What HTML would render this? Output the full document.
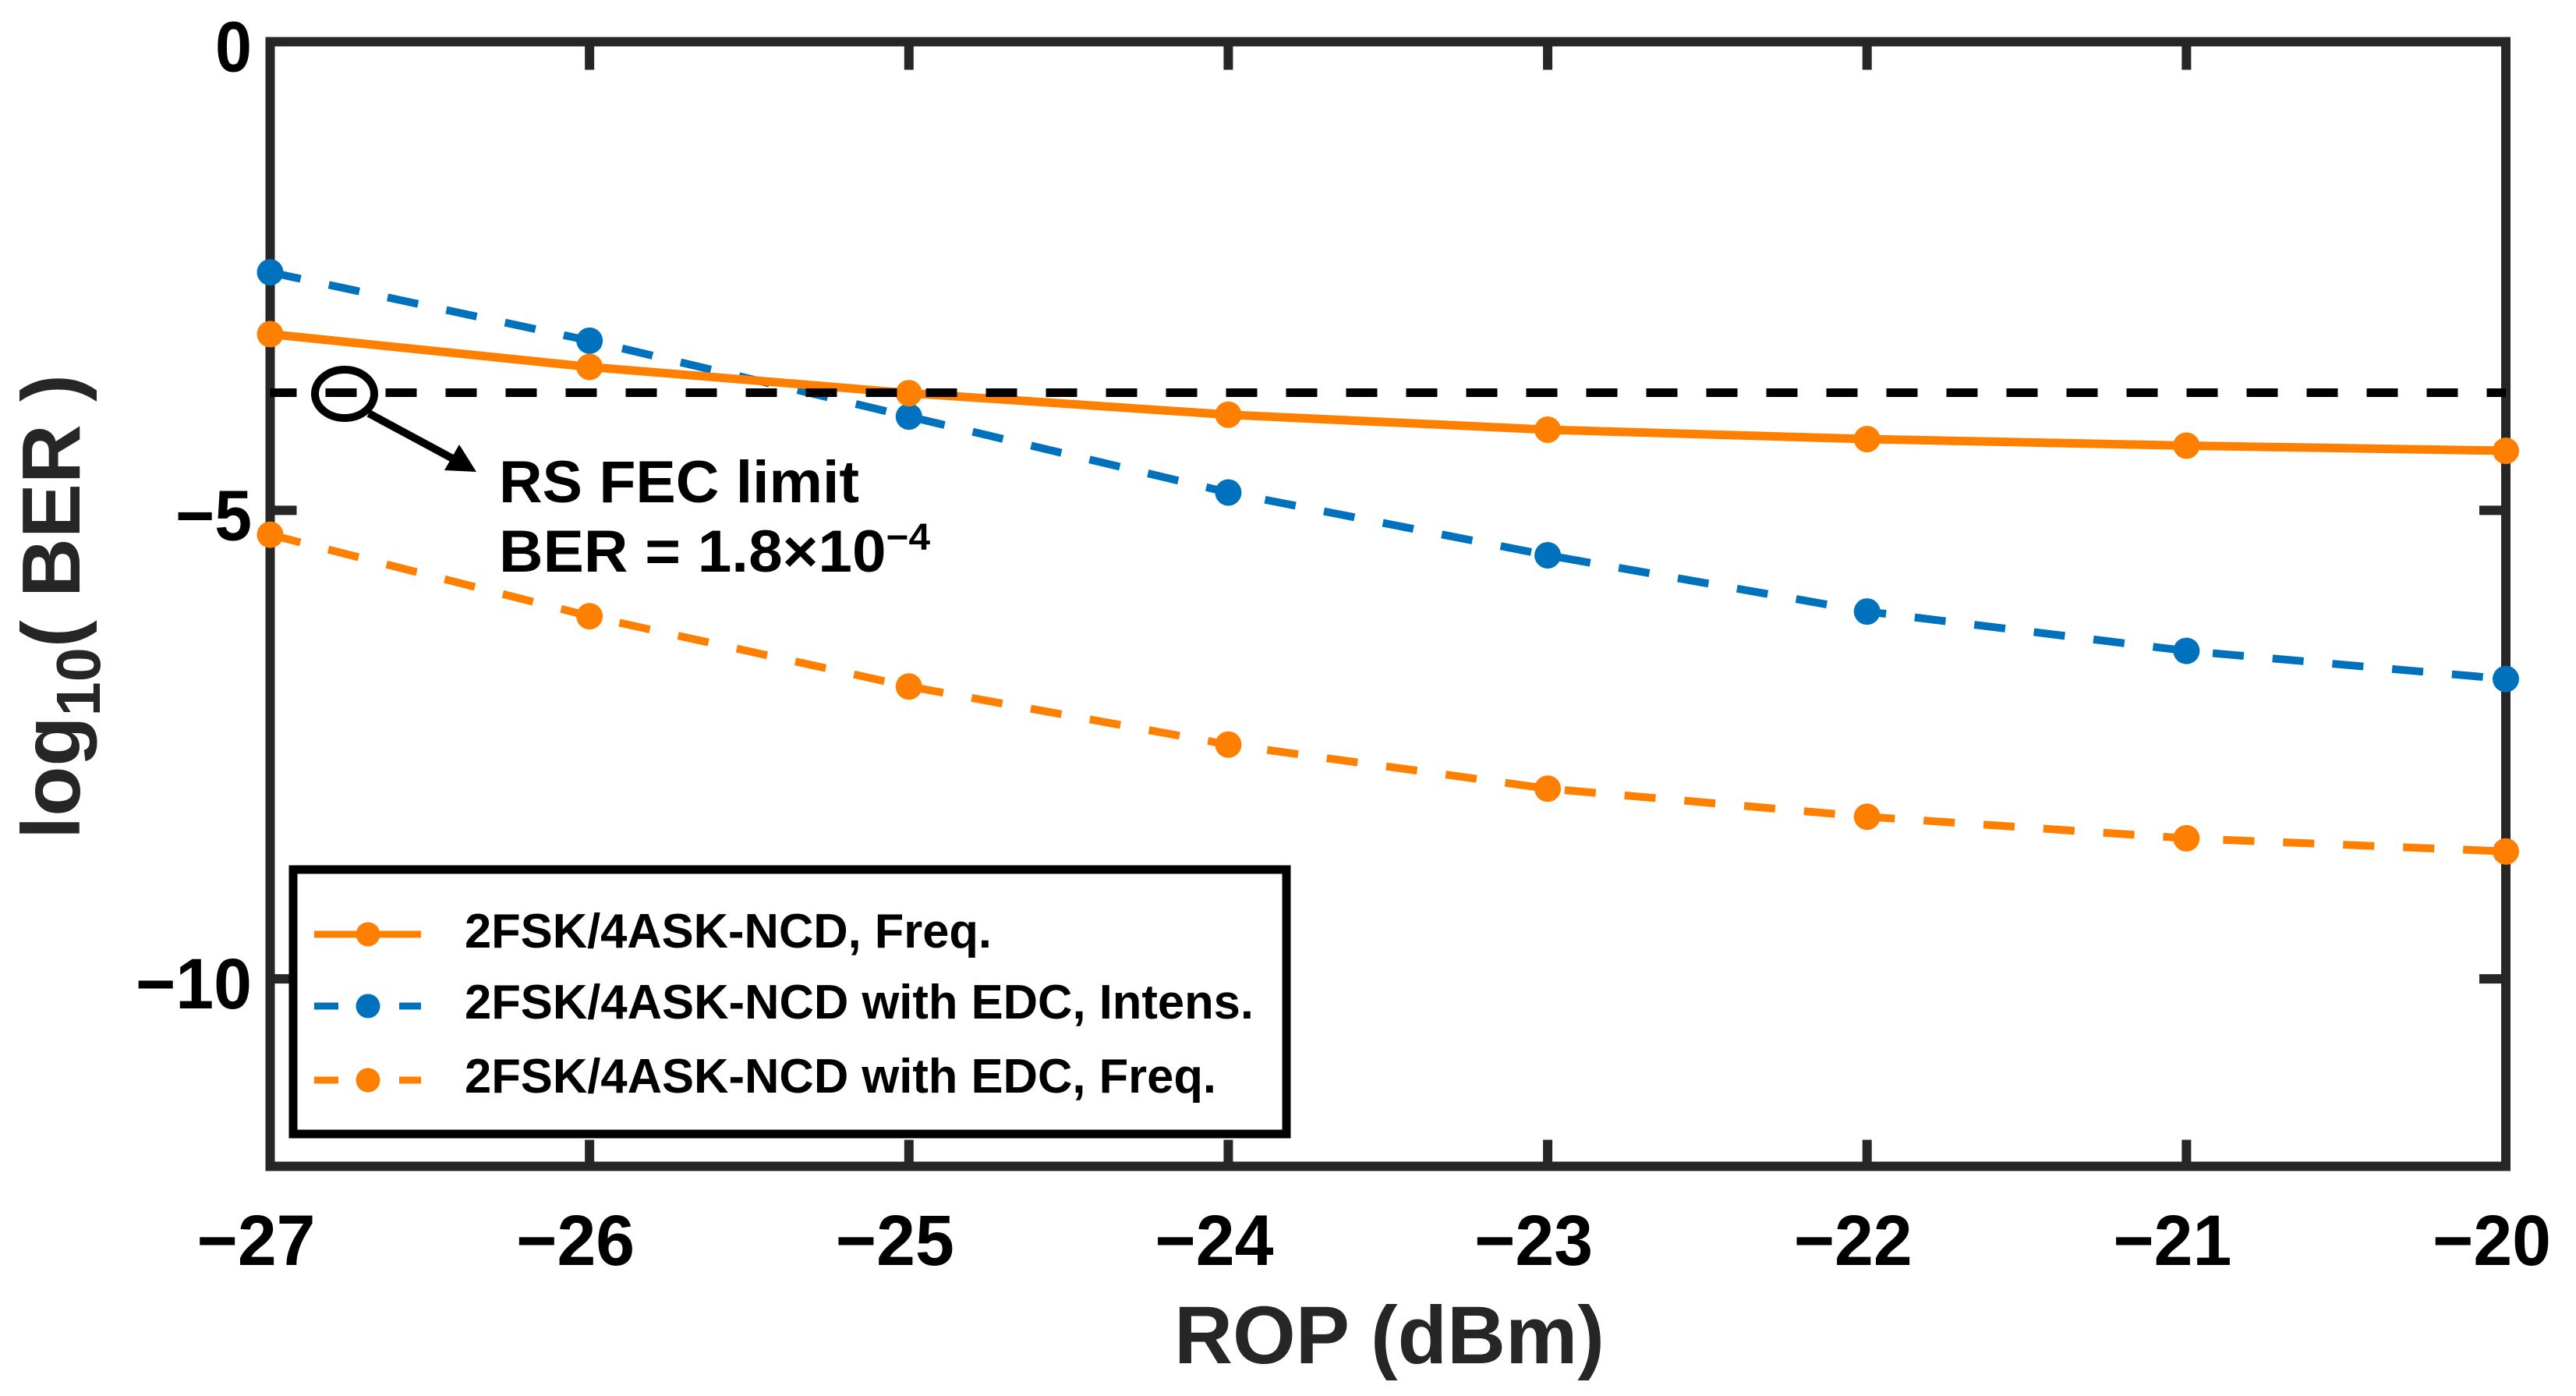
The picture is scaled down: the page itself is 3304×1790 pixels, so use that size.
<!DOCTYPE html>
<html lang="en">
<head>
<meta charset="utf-8">
<title>BER vs ROP chart</title>
<style>
html,body{margin:0;padding:0;background:#fff;}
svg{display:block;}
text{font-family:"Liberation Sans",Arial,sans-serif;font-weight:700;}
</style>
</head>
<body>
<svg id="chart" xmlns="http://www.w3.org/2000/svg" width="3304" height="1790" viewBox="0 0 3304 1790">
<rect x="0" y="0" width="3304" height="1790" fill="#fff"/>
<g id="axes"></g>
<g id="series"></g>
<text transform="translate(102,1076) rotate(-90)" font-size="106" fill="#262626" textLength="596" lengthAdjust="spacingAndGlyphs">log<tspan font-size="80" dy="26">10</tspan><tspan dy="-26">( BER )</tspan></text>
<text x="1506" y="1748" font-size="105" fill="#262626" textLength="552" lengthAdjust="spacingAndGlyphs">ROP (dBm)</text>
<ellipse cx="442" cy="505" rx="38" ry="31" fill="none" stroke="#000" stroke-width="10"/>
<line x1="473" y1="530" x2="588" y2="592" stroke="#000" stroke-width="10"/>
<polygon points="611,605 570,603 589,570" fill="#000"/>
<text x="640" y="644" font-size="76" fill="#000" textLength="462" lengthAdjust="spacingAndGlyphs">RS FEC limit</text>
<text x="640" y="733" font-size="76" fill="#000" textLength="553" lengthAdjust="spacingAndGlyphs">BER = 1.8×10<tspan font-size="48" dy="-28">−4</tspan></text>
<g>
  <rect x="376" y="1115" width="1274" height="339" fill="#fff" stroke="#000" stroke-width="11"/>
  <g>
    <line x1="403" y1="1198" x2="540" y2="1198" stroke="#ff8000" stroke-width="9"/>
    <circle cx="472" cy="1198" r="15.5" fill="#ff8000"/>
    <text x="596" y="1215" font-size="62" fill="#000" textLength="676" lengthAdjust="spacingAndGlyphs">2FSK/4ASK-NCD, Freq.</text>
  </g>
  <g>
    <line x1="403" y1="1290" x2="434" y2="1290" stroke="#0072bd" stroke-width="9"/>
    <line x1="512" y1="1290" x2="540" y2="1290" stroke="#0072bd" stroke-width="9"/>
    <circle cx="472" cy="1290" r="15.5" fill="#0072bd"/>
    <text x="596" y="1306" font-size="62" fill="#000" textLength="1012" lengthAdjust="spacingAndGlyphs">2FSK/4ASK-NCD with EDC, Intens.</text>
  </g>
  <g>
    <line x1="403" y1="1385" x2="434" y2="1385" stroke="#ff8000" stroke-width="9"/>
    <line x1="512" y1="1385" x2="540" y2="1385" stroke="#ff8000" stroke-width="9"/>
    <circle cx="472" cy="1385" r="15.5" fill="#ff8000"/>
    <text x="596" y="1401" font-size="62" fill="#000" textLength="964" lengthAdjust="spacingAndGlyphs">2FSK/4ASK-NCD with EDC, Freq.</text>
  </g>
</g>
</svg>
<script>
const rop = [-27, -26, -25, -24, -23, -22, -21, -20];
const freqNoEdc = [-3.12, -3.47, -3.75, -3.98, -4.14, -4.24, -4.31, -4.365];
const intensEdc = [-2.46, -3.19, -4.0, -4.81, -5.48, -6.08, -6.5, -6.8];
const freqEdc = [-5.26, -6.13, -6.88, -7.5, -7.97, -8.27, -8.5, -8.64];
const fecLimit = -3.745;
const xTicks = [-27, -26, -25, -24, -23, -22, -21, -20];
const yTicks = [0, -5, -10];

const NS = 'http://www.w3.org/2000/svg';
const plot = {left: 346.5, right: 3214, top: 53.5, bottom: 1495.5};
const xMin = -27, xMax = -20, yMax = 0, yMin = -12;
function xScale(v) { return plot.left + (v - xMin) / (xMax - xMin) * (plot.right - plot.left); }
function yScale(v) { return plot.top + (yMax - v) / (yMax - yMin) * (plot.bottom - plot.top); }
function fmt(v) { return String(v).replace('-', '\u2212'); }
function make(parent, tag, attrs) {
  const el = document.createElementNS(NS, tag);
  for (const k in attrs) el.setAttribute(k, attrs[k]);
  parent.appendChild(el);
  return el;
}
const axes = document.getElementById('axes');
const seriesGroup = document.getElementById('series');
const axisColor = '#262626';

xTicks.forEach(function (t) {
  const bottomTick = make(axes, 'line', {x1: xScale(t), x2: xScale(t), y1: plot.bottom, y2: plot.bottom - 34, stroke: axisColor, 'stroke-width': 12});
  
  
  const topTick = make(axes, 'line', {x1: xScale(t), x2: xScale(t), y1: plot.top, y2: plot.top + 36, stroke: axisColor, 'stroke-width': 12});
  
  
  const label = make(axes, 'text', {x: xScale(t) - 18, y: 1622, 'text-anchor': 'middle', 'font-size': 92, fill: '#000', textLength: 152, lengthAdjust: 'spacingAndGlyphs'});
  label.textContent = fmt(t);
  
  
});
yTicks.forEach(function (t) {
  const leftTick = make(axes, 'line', {x1: plot.left, x2: plot.left + 34, y1: yScale(t), y2: yScale(t), stroke: axisColor, 'stroke-width': 12});
  
  
  const rightTick = make(axes, 'line', {x1: plot.right, x2: plot.right - 34, y1: yScale(t), y2: yScale(t), stroke: axisColor, 'stroke-width': 12});
  
  
  const label = make(axes, 'text', {x: 323, y: yScale(t) + 38, 'text-anchor': 'end', 'font-size': 92, fill: '#000', textLength: String(t).length * 51 - 4, lengthAdjust: 'spacingAndGlyphs'});
  label.textContent = fmt(t);
  
  
});
const frame = make(axes, 'rect', {x: plot.left, y: plot.top, width: plot.right - plot.left, height: plot.bottom - plot.top, fill: 'none', stroke: axisColor, 'stroke-width': 12});



function drawSeries(name, values, color, dash, width) {
  const g = make(seriesGroup, 'g', {});
  
  
  const pts = values.map(function (v, i) { return xScale(rop[i]) + ',' + yScale(v); }).join(' ');
  const attrs = {points: pts, fill: 'none', stroke: color, 'stroke-width': width};
  if (dash) attrs['stroke-dasharray'] = dash;
  const line = make(g, 'polyline', attrs);
  
  
  values.forEach(function (v, i) {
    const pt = make(g, 'circle', {cx: xScale(rop[i]), cy: yScale(v), r: 17, fill: color});
    
    
  });
}
drawSeries('intens-edc', intensEdc, '#0072bd', '40 37', 10);
drawSeries('freq-edc', freqEdc, '#ff8000', '40 37', 10);
drawSeries('freq-no-edc', freqNoEdc, '#ff8000', null, 11);

const fecLine = make(seriesGroup, 'line', {x1: plot.left, x2: plot.right, y1: yScale(fecLimit), y2: yScale(fecLimit), stroke: '#000', 'stroke-width': 11, 'stroke-dasharray': '40 37', 'stroke-dashoffset': 6});


</script>
</body>
</html>
